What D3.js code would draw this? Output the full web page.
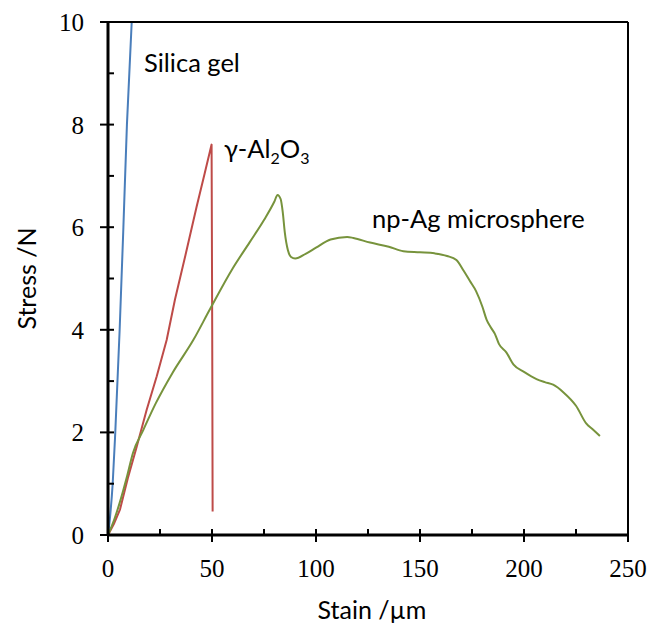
<!DOCTYPE html>
<html>
<head>
<meta charset="utf-8">
<script src="https://cdn.jsdelivr.net/npm/d3@7"></script>
<style>
  body { margin: 0; background: #fff; }
  .tick-label { font-family: "Liberation Serif", serif; font-size: 25px; fill: #000; }
  .title { font-family: Lato, sans-serif; font-size: 25px; fill: #000; }
  .series-label { font-family: Lato, sans-serif; font-size: 25.5px; fill: #000; }
</style>
</head>
<body>
<div id="chart"></div>
<script>
// silica gel (blue)
const silicaStrain = [0, 1.0, 2.25, 3.5, 5.6, 7.4, 9.1, 11.4];
const silicaStress = [0, 0.36, 1.0, 2.0, 4.0, 6.0, 8.0, 10.0];

// gamma-Al2O3 (red)
const aluminaStrain = [0, 3.0, 5.8, 9.5, 13.8, 18.6, 23.4, 28.2, 32.2, 37.5, 42.6, 46.5, 49.8, 50.1, 50.3];
const aluminaStress = [0, 0.23, 0.5, 1.1, 1.72, 2.44, 3.09, 3.8, 4.59, 5.5, 6.4, 7.05, 7.61, 4.0, 0.46];

// np-Ag microsphere (green)
const agStrain = [0, 3, 6, 9, 12, 17, 23, 31, 41, 49, 60, 68, 75, 80, 81.5, 83, 84, 85, 86.5, 88, 90, 95, 100, 107, 115,
  118, 126, 135, 142, 150, 157, 163, 167.5, 171, 174, 177, 180, 182, 184, 186, 188, 191.5, 195, 200, 206, 210, 214,
  219, 225, 230, 233, 236.5];
const agStress = [0, 0.3, 0.68, 1.12, 1.6, 2.05, 2.57, 3.16, 3.8, 4.4, 5.2, 5.7, 6.14, 6.5, 6.63, 6.55, 6.3, 5.9, 5.55, 5.42,
  5.39, 5.48, 5.6, 5.76, 5.81, 5.79, 5.7, 5.62, 5.53, 5.51, 5.49, 5.44, 5.36, 5.15, 4.95, 4.75, 4.45, 4.2, 4.05, 3.92,
  3.72, 3.56, 3.32, 3.18, 3.04, 2.98, 2.93, 2.78, 2.52, 2.17, 2.06, 1.93];

const xMajor = [0, 50, 100, 150, 200, 250];
const xMinor = [25, 75, 125, 175, 225];
const yMajor = [0, 2, 4, 6, 8, 10];
const yMinor = [1, 3, 5, 7, 9];

const width = 650, height = 629;
const margin = {left: 108, right: 22, top: 22, bottom: 94};

const svg = d3.select('#chart')
    .append('svg')
    .attr('width', width)
    .attr('height', height);

const x = d3.scaleLinear().domain([0, 250]).range([margin.left, width - margin.right]);
const y = d3.scaleLinear().domain([0, 10]).range([height - margin.bottom, margin.top]);

const series = [
    {name: 'silica', xs: silicaStrain, ys: silicaStress, color: '#4A7EBB', curve: d3.curveMonotoneX},
    {name: 'alumina', xs: aluminaStrain, ys: aluminaStress, color: '#BE4B48', curve: d3.curveLinear},
    {name: 'ag', xs: agStrain, ys: agStress, color: '#77933C', curve: d3.curveMonotoneX}
];

series.forEach(function(s) {
    const pts = s.xs.map((v, i) => [v, s.ys[i]]);
    const line = d3.line()
        .x(d => x(d[0]))
        .y(d => y(d[1]))
        .curve(s.curve);
    svg.append('path')
        .attr('d', line(pts))
        .attr('fill', 'none')
        .attr('stroke', s.color)
        .attr('stroke-width', 2)
        .attr('stroke-linejoin', 'round');
});

// top and right border
svg.append('line')
    .attr('x1', x(0)).attr('x2', x(250))
    .attr('y1', y(10)).attr('y2', y(10))
    .attr('stroke', '#000').attr('stroke-width', 2);
svg.append('line')
    .attr('x1', x(250)).attr('x2', x(250))
    .attr('y1', y(10)).attr('y2', y(0))
    .attr('stroke', '#000').attr('stroke-width', 2);

// x axis
const xAxis = svg.append('g').attr('transform', 'translate(0,' + y(0) + ')');
xAxis.append('line')
    .attr('x1', x(0) - 1).attr('x2', x(250) + 1)
    .attr('stroke', '#000').attr('stroke-width', 3);
xAxis.selectAll('.major')
    .data(xMajor)
    .enter()
    .append('line')
    .attr('x1', d => x(d)).attr('x2', d => x(d))
    .attr('y1', -6).attr('y2', 7)
    .attr('stroke', '#000').attr('stroke-width', 2);
xAxis.selectAll('.minor')
    .data(xMinor)
    .enter()
    .append('line')
    .attr('x1', d => x(d)).attr('x2', d => x(d))
    .attr('y1', -6).attr('y2', 0)
    .attr('stroke', '#000').attr('stroke-width', 2);
xAxis.selectAll('.tick-label')
    .data(xMajor)
    .enter()
    .append('text')
    .attr('class', 'tick-label')
    .attr('x', d => x(d))
    .attr('y', 42)
    .attr('text-anchor', 'middle')
    .text(d => d);

// y axis
const yAxis = svg.append('g').attr('transform', 'translate(' + x(0) + ',0)');
yAxis.append('line')
    .attr('y1', y(0) + 1).attr('y2', y(10) - 1)
    .attr('stroke', '#000').attr('stroke-width', 3);
yAxis.selectAll('.major')
    .data(yMajor)
    .enter()
    .append('line')
    .attr('y1', d => y(d)).attr('y2', d => y(d))
    .attr('x1', -8).attr('x2', 6)
    .attr('stroke', '#000').attr('stroke-width', 2);
yAxis.selectAll('.minor')
    .data(yMinor)
    .enter()
    .append('line')
    .attr('y1', d => y(d)).attr('y2', d => y(d))
    .attr('x1', 0).attr('x2', 6)
    .attr('stroke', '#000').attr('stroke-width', 2);
yAxis.selectAll('.tick-label')
    .data(yMajor)
    .enter()
    .append('text')
    .attr('class', 'tick-label')
    .attr('x', -24)
    .attr('y', d => y(d) + 9)
    .attr('text-anchor', 'end')
    .text(d => d);

// axis titles
svg.append('text')
    .attr('class', 'title')
    .attr('x', 372)
    .attr('y', 619)
    .attr('text-anchor', 'middle')
    .text('Stain /\u00b5m');

svg.append('text')
    .attr('class', 'title')
    .attr('transform', 'translate(36,' + y(5) + ')rotate(-90)')
    .attr('text-anchor', 'middle')
    .text('Stress /N');

// series labels
svg.append('text')
    .attr('class', 'series-label')
    .attr('x', 144)
    .attr('y', 72)
    .text('Silica gel');

const alLabel = svg.append('text')
    .attr('class', 'series-label')
    .attr('x', 224)
    .attr('y', 158);
alLabel.append('tspan').text('\u03b3-Al');
alLabel.append('tspan').attr('dy', 6).attr('font-size', 16).text('2');
alLabel.append('tspan').attr('dy', -6).text('O');
alLabel.append('tspan').attr('dy', 6).attr('font-size', 16).text('3');

svg.append('text')
    .attr('class', 'series-label')
    .attr('x', 372)
    .attr('y', 228)
    .text('np-Ag microsphere');
</script>
</body>
</html>
